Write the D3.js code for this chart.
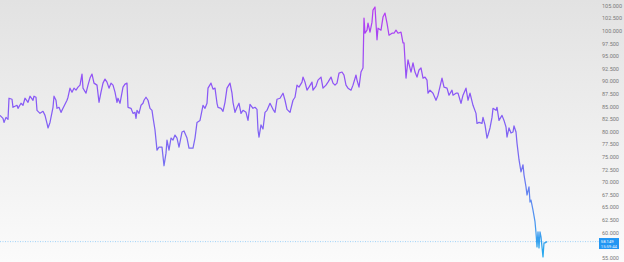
<!DOCTYPE html>
<html>
<head>
<meta charset="utf-8">
<script src="https://cdn.jsdelivr.net/npm/d3@7"></script>
<style>
  html, body { margin: 0; padding: 0; background: #fff; }
  svg { display: block; }
</style>
</head>
<body>
<div id="chart"></div>
<script>
// sample time (minutes from session start) and traded price
var minutes = [0,3,4,6,8,9,12,13,17,18,21,23,25,28,30,33,34,36,37,40,43,45,47,48,50,53,54,56,57,59,
  61,63,67,68,70,72,74,76,78,80,82,83,86,88,90,92,94,97,99,101,103,105,107,109,111,113,115,117,118,120,
  123,125,127,128,131,133,135,136,137,139,141,143,144,146,148,150,152,153,155,157,159,162,164,166,167,169,171,173,175,177,
  179,182,184,187,189,193,195,197,200,203,205,207,208,211,213,215,217,218,221,223,225,227,230,232,233,235,237,239,241,243,
  246,248,250,253,255,257,258,259,261,263,265,267,270,273,275,277,280,283,285,287,290,293,295,297,299,302,303,305,307,309,
  312,313,316,318,321,323,326,328,331,333,335,337,339,342,344,346,348,351,353,356,357,359,361,363,364,365,367,368,370,372,
  373,375,377,378,381,383,385,387,389,392,394,396,398,401,403,404,406,408,411,413,415,417,419,421,423,425,427,428,430,433,
  436,438,442,444,447,449,452,453,456,458,461,463,466,468,470,473,476,477,479,482,483,485,487,488,490,492,493,496,497,499,
  502,504,506,507,509,511,513,514,516,517,519,521,523,524,526,527,529,530,531,533,535,536,537,538,539,540,541,543,544,545,547];
var prices = [83.2,82.6,81.8,82.8,82.4,86.6,86.4,84.8,85.2,84.6,85.6,85.2,86.6,85.8,87.0,86.2,87.0,86.8,84.2,83.6,
  84.0,83.2,81.6,80.7,81.8,84.8,87.0,86.2,84.6,84.8,83.8,84.6,86.2,86.8,88.6,87.8,88.6,88.2,88.8,89.2,
  91.4,88.6,87.6,89.2,90.6,91.4,89.6,89.2,85.8,87.8,89.6,90.4,89.8,88.6,89.6,89.2,87.8,85.8,86.6,85.6,
  88.8,89.4,89.6,84.8,84.6,83.6,83.8,82.6,84.2,83.6,85.2,85.6,86.2,86.8,86.2,84.6,84.2,82.8,80.3,76.3,76.9,76.9,73.2,75.7,78.3,76.3,78.7,78.3,79.3,78.7,
  76.9,79.9,80.1,78.7,76.7,76.7,78.7,81.8,82.2,85.2,84.6,85.6,88.6,89.6,88.4,88.6,85.6,84.8,84.6,84.0,85.8,88.6,89.6,87.6,85.8,83.8,84.8,85.6,83.6,84.2,
  83.8,82.2,85.4,84.6,84.8,84.4,80.3,78.9,81.3,80.5,83.8,84.2,85.6,84.4,83.8,86.4,86.6,87.6,86.2,84.4,83.8,86.2,86.8,89.2,88.8,89.8,90.8,89.8,88.2,88.8,
  89.8,88.2,89.0,90.2,90.8,88.6,89.2,89.8,90.8,89.6,89.2,89.6,91.6,91.8,91.2,89.2,88.6,88.2,89.2,91.2,90.2,88.8,91.8,92.6,102.5,99.5,100.1,101.5,99.7,101.7,
  104.1,104.7,98.2,100.5,100.1,102.7,103.5,101.5,99.1,99.5,99.5,100.1,99.5,99.7,97.6,97.6,90.6,94.2,91.8,93.6,91.8,90.8,92.2,92.6,90.6,90.8,90.2,87.6,88.2,87.6,
  86.2,87.2,90.6,88.8,88.6,87.2,88.2,87.2,87.6,87.6,85.6,87.2,88.6,86.2,87.6,85.2,83.6,81.6,81.8,81.6,82.8,81.3,78.7,79.3,80.7,82.8,84.6,84.2,84.8,82.2,
  83.2,82.2,80.9,78.9,80.7,79.7,79.9,81.1,79.9,77.7,74.4,72.0,73.4,71.4,69.0,67.4,69.0,66.0,66.4,64.4,62.1,59.9,57.1,60.1,56.9,60.1,59.1,55.1,57.9,57.9,58.149];
var lastPrice = "58.149";
var lastTime = "15:59:44";
// 57.500 sits under the last price tag, so it is not labelled
var yTicks = [55, 60, 62.5, 65, 67.5, 70, 72.5, 75, 77.5, 80, 82.5, 85, 87.5, 90, 92.5, 95, 97.5, 100, 102.5, 105];

var W = 624, H = 262;
var svg = d3.select("#chart").append("svg")
    .attr("width", W)
    .attr("height", H);

var defs = svg.append("defs");

var bg = defs.append("linearGradient")
    .attr("id", "bg")
    .attr("x1", 0).attr("y1", 0).attr("x2", 0).attr("y2", 1);
bg.append("stop").attr("offset", "0%").attr("stop-color", "#e2e2e2");
bg.append("stop").attr("offset", "100%").attr("stop-color", "#fbfbfb");

svg.append("rect")
    .attr("width", W)
    .attr("height", H)
    .attr("fill", "url(#bg)");

var x = d3.scaleLinear()
    .domain([0, 600])
    .range([0, 600]);

var y = d3.scaleLinear()
    .domain([55, 105])
    .range([257.5, 5.5]);

// line colour depends on price level
var lineGrad = defs.append("linearGradient")
    .attr("id", "lineGrad")
    .attr("gradientUnits", "userSpaceOnUse")
    .attr("x1", 0).attr("x2", 0)
    .attr("y1", y(105)).attr("y2", y(55));
lineGrad.append("stop").attr("offset", "0%").attr("stop-color", "#b83cf2");
lineGrad.append("stop").attr("offset", "35%").attr("stop-color", "#8a58f6");
lineGrad.append("stop").attr("offset", "60%").attr("stop-color", "#7a6af2");
lineGrad.append("stop").attr("offset", "80%").attr("stop-color", "#5b8ef0");
lineGrad.append("stop").attr("offset", "100%").attr("stop-color", "#22aaee");

var data = minutes.map(function(m, i) { return {t: m, p: prices[i]}; });

// last price guide
svg.append("line")
    .attr("x1", 0)
    .attr("x2", 600)
    .attr("y1", y(+lastPrice))
    .attr("y2", y(+lastPrice))
    .attr("stroke", "#9fd2f8")
    .attr("stroke-width", 1)
    .attr("stroke-dasharray", "1,1.5");

svg.append("path")
    .datum(data)
    .attr("fill", "none")
    .attr("stroke", "url(#lineGrad)")
    .attr("stroke-width", 1.25)
    .attr("stroke-linejoin", "round")
    .attr("d", d3.line()
        .x(function(d) { return x(d.t); })
        .y(function(d) { return y(d.p); }));

// right price axis
var axis = svg.append("g")
    .attr("transform", "translate(601,0)")
    .call(d3.axisRight(y)
        .tickValues(yTicks)
        .tickSize(0)
        .tickPadding(1)
        .tickFormat(d3.format(".3f")));
axis.select(".domain").remove();
axis.selectAll("text")
    .attr("fill", "#7a7a7a")
    .style("font-family", "Roboto, 'Noto Sans', sans-serif")
    .style("font-size", "5.5px");

// last price tag
var tag = svg.append("g")
    .attr("transform", "translate(599," + (y(+lastPrice) - 3.6) + ")");
tag.append("rect")
    .attr("width", 20)
    .attr("height", 11)
    .attr("fill", "#2196f3");
tag.append("text")
    .attr("x", 1.8)
    .attr("y", 4.7)
    .attr("fill", "#fff")
    .style("font-family", "Roboto, 'Noto Sans', sans-serif")
    .style("font-size", "4.2px")
    .text(lastPrice);
tag.append("text")
    .attr("x", 1.8)
    .attr("y", 10.1)
    .attr("fill", "#e8f3fe")
    .style("font-family", "Roboto, 'Noto Sans', sans-serif")
    .style("font-size", "4.2px")
    .text(lastTime);
</script>
</body>
</html>
